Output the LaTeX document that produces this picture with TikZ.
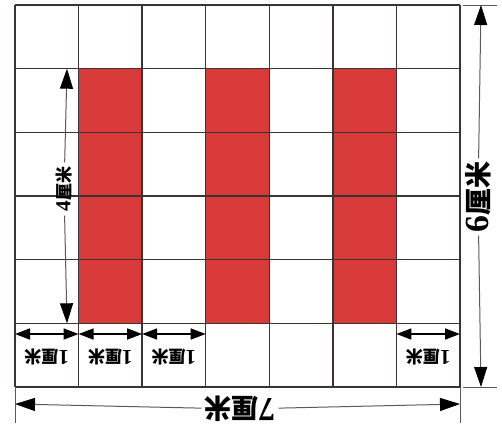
\documentclass[tikz,border=0pt]{standalone}
\usepackage{fontspec}
\setmainfont{Liberation Serif}
\newfontfamily\digitfont{Liberation Serif}[Scale=1.25]
\newfontfamily\cjk{Noto Sans CJK SC}
\usetikzlibrary{arrows.meta}
\definecolor{redc}{RGB}{216,58,58}
\definecolor{gridc}{RGB}{60,52,52}
\definecolor{dimc}{RGB}{90,90,90}
\newcommand{\cm}[1]{{\digitfont\bfseries #1}{\cjk\bfseries 厘米}}
\begin{document}
\begin{tikzpicture}[x=1pt,y=-1pt,
  gridline/.style={draw=gridc, line width=1.5pt},
  ticks/.style={draw=dimc, line width=1pt},
  bigarr/.style={draw=dimc, line width=1pt, -{Triangle[length=20pt,width=13pt,black]}},
  smallarr/.style={draw=black, line width=1.6pt, {Triangle[length=15pt,width=11pt]}-{Triangle[length=15pt,width=11pt]}},
  smalllbl/.style={font=\fontsize{17}{17}\selectfont, inner sep=1pt},
  biglbl/.style={font=\fontsize{27}{27}\selectfont, inner sep=3pt}]
\def\W{63.571}
\def\H{63.667}
\useasboundingbox (0,0) rectangle (502,440);
\fill[white] (0,0) rectangle (502,440);
% red bars
\foreach \c in {1,3,5}
  \fill[redc] ({15+\c*\W},{5+\H}) rectangle ++(\W,{4*\H});
% grid
\foreach \i in {0,...,7}
  \draw[gridline] ({15+\i*\W},5) -- ({15+\i*\W},387);
\foreach \j in {0,...,6}
  \draw[gridline] (15,{5+\j*\H}) -- (460,{5+\j*\H});
% extension ticks
\coordinate (tkL1) at (15,387);   \coordinate (tkL2) at (15,423);
\coordinate (tkR1) at (460,387);  \coordinate (tkR2) at (460,423);
\coordinate (tkT1) at (463,5);    \coordinate (tkT2) at (497,5);
\coordinate (tkB1) at (463,387);  \coordinate (tkB2) at (497,387);
\draw[ticks] (tkL1) -- (tkL2);
\draw[ticks] (tkR1) -- (tkR2);
\draw[ticks] (tkT1) -- (tkT2);
\draw[ticks] (tkB1) -- (tkB2);
% 7 cm
\coordinate (sevL) at (15,404);
\coordinate (sevR) at (460,404);
\node[biglbl, rotate=180] (sev) at (240,409) {\cm{7}};
\draw[bigarr] (sev) -- (sevL);
\draw[bigarr] (sev) -- (sevR);
% 6 cm
\coordinate (sixT) at (481,5);
\coordinate (sixB) at (481,387);
\node[biglbl, rotate=90] (six) at (478,197) {\cm{6}};
\draw[bigarr] (six) -- (sixT);
\draw[bigarr] (six) -- (sixB);
% 4 cm
\coordinate (fourT) at (67,{5+\H});
\coordinate (fourB) at (67,{5+5*\H});
\node[smalllbl, inner sep=4pt, rotate=90] (four) at (64,189) {\cm{4}};
\draw[bigarr] (four) -- (fourT);
\draw[bigarr] (four) -- (fourB);
% 1 cm
\foreach \i in {0,1,2,6} {
  \coordinate (oa\i) at ({15+\i*\W},334);
  \coordinate (ob\i) at ({15+(\i+1)*\W},334);
  \draw[smallarr] (oa\i) -- (ob\i);
  \node[smalllbl, rotate=180] (ol\i) at ({15+(\i+0.5)*\W},357) {\cm{1}};
}
\end{tikzpicture}
\end{document}
